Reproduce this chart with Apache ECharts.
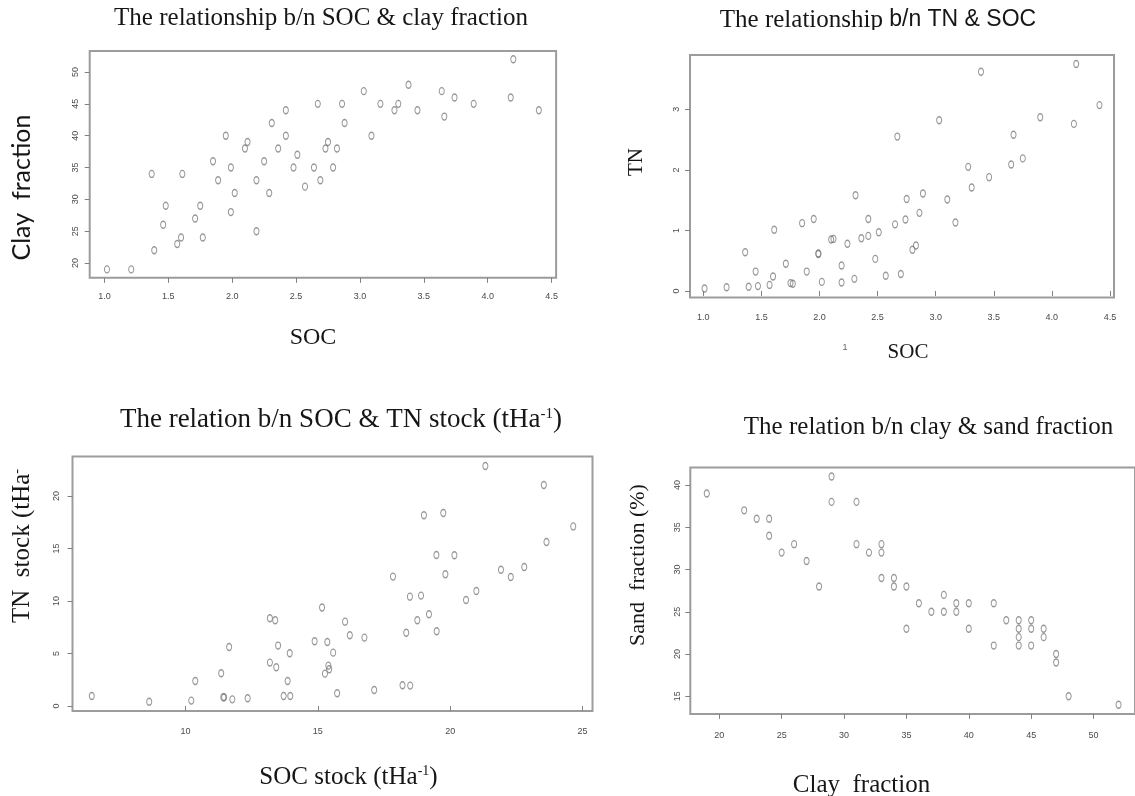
<!DOCTYPE html>
<html>
<head>
<meta charset="utf-8">
<title>SOC relationships</title>
<script src="https://cdn.jsdelivr.net/npm/echarts@6/dist/echarts.min.js"></script>
<style>
  html, body { margin: 0; padding: 0; background: #fff; }
  #chart { width: 1135px; height: 796px; }
</style>
</head>
<body>
<div id="chart"></div>
<script>
// panel 1: SOC vs clay fraction
const soc1 = [1.02, 1.21, 1.37, 1.39, 1.46, 1.48, 1.57, 1.60, 1.61, 1.71, 1.75, 1.77, 1.85, 1.89, 1.95, 1.99, 1.99, 2.02, 2.10, 2.12,
  2.19, 2.19, 2.25, 2.29, 2.31, 2.36, 2.42, 2.42, 2.48, 2.51, 2.57, 2.64, 2.67, 2.69, 2.73, 2.75, 2.79, 2.82, 2.86, 2.88,
  3.03, 3.09, 3.16, 3.27, 3.30, 3.38, 3.45, 3.64, 3.66, 3.74, 3.89, 4.18, 4.20, 4.40]
const clay1 = [19, 19, 34, 22, 26, 29, 23, 24, 34, 27, 29, 24, 36, 33, 40, 35, 28, 31, 38, 39,
  33, 25, 36, 31, 42, 38, 44, 40, 35, 37, 32, 35, 45, 33, 38, 39, 35, 38, 45, 42,
  47, 40, 45, 44, 45, 48, 44, 47, 43, 46, 45, 46, 52, 44]

// panel 2: SOC vs TN
const soc2 = [1.01, 1.20, 1.36, 1.39, 1.45, 1.47, 1.57, 1.60, 1.61, 1.71, 1.75, 1.77, 1.85, 1.89, 1.95, 1.99, 1.99, 2.02,
  2.10, 2.12, 2.19, 2.19, 2.24, 2.30, 2.31, 2.36, 2.42, 2.42, 2.48, 2.51, 2.57, 2.65, 2.67, 2.70, 2.74, 2.75, 2.80, 2.83,
  2.86, 2.89, 3.03, 3.10, 3.17, 3.28, 3.31, 3.39, 3.46, 3.65, 3.67, 3.75, 3.90, 4.19, 4.21, 4.41]
const tn2 = [0.04, 0.06, 0.64, 0.07, 0.32, 0.08, 0.10, 0.24, 1.01, 0.45, 0.13, 0.12, 1.12, 0.32, 1.19, 0.61, 0.62, 0.15,
  0.85, 0.86, 0.42, 0.14, 0.78, 0.20, 1.58, 0.87, 0.91, 1.19, 0.53, 0.97, 0.25, 1.10, 2.55, 0.28, 1.18, 1.52, 0.68, 0.75,
  1.29, 1.61, 2.82, 1.51, 1.13, 2.05, 1.71, 3.62, 1.88, 2.09, 2.58, 2.19, 2.87, 2.76, 3.75, 3.07]

// panel 3: SOC stock vs TN stock
const socStock = [6.46, 8.63, 10.22, 10.37, 11.35, 11.43, 11.46, 11.65, 11.77, 12.35, 13.19, 13.19, 13.39, 13.43, 13.50,
  13.71, 13.86, 13.94, 13.96, 14.88, 15.16, 15.27, 15.36, 15.40, 15.43, 15.58, 15.73, 16.03, 16.21, 16.76, 17.13, 17.84,
  18.20, 18.34, 18.48, 18.49, 18.76, 18.90, 19.01, 19.20, 19.48, 19.49, 19.74, 19.82, 20.16, 20.60, 20.99, 21.33, 21.92,
  22.29, 22.80, 23.54, 23.64, 24.65]
const tnStock = [0.95, 0.41, 0.51, 2.38, 3.11, 0.83, 0.83, 5.62, 0.63, 0.73, 8.35, 4.13, 8.16, 3.68, 5.75,
  0.95, 2.38, 5.02, 0.95, 6.16, 9.37, 3.08, 6.10, 3.84, 3.49, 5.08, 1.21, 8.03, 6.73, 6.51, 1.52, 12.32,
  1.97, 6.98, 10.41, 1.94, 8.16, 10.51, 18.16, 8.73, 14.38, 7.11, 18.38, 12.54, 14.35, 10.10, 10.95, 22.86, 12.98,
  12.29, 13.24, 21.05, 15.62, 17.10]

// panel 4: clay vs sand fraction
const clay4 = [19, 22, 23, 24, 24, 25, 26, 27, 28, 29, 29, 31, 31, 32, 33, 33, 33, 34, 34, 35,
  35, 36, 37, 38, 38, 39, 39, 40, 40, 42, 42, 43, 44, 44, 44, 44, 45, 45, 45, 46, 46, 47, 47, 48, 52]
const sand4 = [39, 37, 36, 36, 34, 32, 33, 31, 28, 41, 38, 38, 33, 32, 33, 32, 29, 29, 28, 28,
  23, 26, 25, 27, 25, 26, 25, 26, 23, 26, 21, 24, 24, 23, 22, 21, 24, 23, 21, 23, 22, 20, 19, 15, 14]

// tick labels
const socTicks = [1.0, 1.5, 2.0, 2.5, 3.0, 3.5, 4.0, 4.5]
const clayTicks = [20, 25, 30, 35, 40, 45, 50]
const tnTicks = [0, 1, 2, 3]
const socStockTicks = [10, 15, 20, 25]
const tnStockTicks = [0, 5, 10, 15, 20]
const clay4Ticks = [20, 25, 30, 35, 40, 45, 50]
const sandTicks = [15, 20, 25, 30, 35, 40]

const serif = '"Liberation Serif", "Times New Roman", serif'
const sans = '"Liberation Sans", Arial, sans-serif'
const ink = '#161616'

const chart = echarts.init(document.getElementById('chart'))

const pairs = (xs, ys) => xs.map((v, i) => [v, ys[i]])

const makeGrid = (left, top, width, height) => ({
  left, top, width, height,
  show: true,
  borderColor: '#9c9c9c',
  borderWidth: 2,
  backgroundColor: 'transparent',
})

const makeAxis = (gridIndex, min, max, ticks, margin, rotate, fmt) => ({
  type: 'value',
  gridIndex,
  min,
  max,
  splitLine: { show: false },
  axisLine: { show: false },
  axisTick: {
    show: true,
    length: 5,
    customValues: ticks,
    lineStyle: { color: '#808080', width: 1 },
  },
  axisLabel: {
    customValues: ticks,
    margin,
    rotate,
    fontSize: 9,
    fontFamily: sans,
    color: '#4a4a4a',
    formatter: fmt || ((v) => String(v)),
  },
})

const dot = (xi, data) => ({
  type: 'scatter',
  xAxisIndex: xi,
  yAxisIndex: xi,
  data,
  symbol: 'circle',
  symbolSize: [5, 7],
  itemStyle: {
    color: 'rgba(255,255,255,0)',
    borderColor: '#7d7d7d',
    borderWidth: 1.2,
  },
  silent: true,
})

const label = (x, y, text, size, opts = {}) => ({
  type: 'text',
  x,
  y,
  rotation: opts.rotate ? Math.PI / 2 : 0,
  z: 10,
  style: {
    text,
    fontSize: size,
    fontFamily: opts.font || serif,
    fill: opts.color || ink,
    align: 'center',
    verticalAlign: 'middle',
    rich: opts.rich,
  },
})

const supRich = (size, supSize) => ({
  a: { fontSize: size, fontFamily: serif, fill: ink },
  s: { fontSize: supSize, fontFamily: serif, fill: ink, verticalAlign: 'top' },
  b: { fontSize: size - 2, fontFamily: sans, fill: ink },
})

const option = {
  animation: false,
  backgroundColor: '#fff',
  grid: [
    makeGrid(89.7, 50.9, 466.4, 226.9),
    makeGrid(690, 55, 424, 242.5),
    makeGrid(72.5, 456.5, 520, 254.6),
    makeGrid(690.3, 467.4, 446.6, 246.5),
  ],
  xAxis: [
    makeAxis(0, 0.885, 4.535, socTicks, 14, 0, (v) => v.toFixed(1)),
    makeAxis(1, 0.885, 4.535, socTicks, 16, 0, (v) => v.toFixed(1)),
    makeAxis(2, 5.732, 25.378, socStockTicks, 16, 0),
    makeAxis(3, 17.68, 53.32, clay4Ticks, 17, 0),
  ],
  yAxis: [
    makeAxis(0, 17.68, 53.32, clayTicks, 10, 90),
    makeAxis(1, -0.108, 3.898, tnTicks, 9, 90),
    makeAxis(2, -0.488, 23.758, tnStockTicks, 11, 90),
    makeAxis(3, 12.92, 42.08, sandTicks, 8, 90),
  ],
  series: [
    dot(0, pairs(soc1, clay1)),
    dot(1, pairs(soc2, tn2)),
    dot(2, pairs(socStock, tnStock)),
    dot(3, pairs(clay4, sand4)),
  ],
  graphic: [
    // panel 1
    label(321, 18, 'The relationship b/n SOC & clay fraction', 25),
    label(21.5, 187.5, 'Clay  fraction', 25, { rotate: true, font: 'Lato, "Open Sans", sans-serif' }),
    label(313, 338, 'SOC', 24),
    // panel 2
    label(878, 20, '{a|The relationship }{b|b/n TN & SOC}', 25, { rich: supRich(25, 14) }),
    {
      type: 'rect',
      z: 11,
      shape: { x: 700, y: 30, width: 360, height: 6 },
      style: { fill: '#fff' },
    },
    label(636, 162, 'TN', 21, { rotate: true }),
    label(908, 352, 'SOC', 21),
    label(845, 348, '1', 9, { font: sans, color: '#666' }),
    // panel 3
    label(341, 420, '{a|The relation b/n SOC & TN stock (tHa}{s|-1}{a|)}', 27, { rich: supRich(27, 15) }),
    label(22.7, 546, '{a|TN  stock (tHa}{s|-}', 25, { rotate: true, rich: supRich(25, 14) }),
    label(348.5, 777, '{a|SOC stock (tHa}{s|-1}{a|)}', 25, { rich: supRich(25, 14) }),
    // panel 4
    label(928.5, 427, 'The relation b/n clay & sand fraction', 25),
    label(638.5, 565, 'Sand  fraction (%)', 22, { rotate: true }),
    label(861.5, 785, 'Clay  fraction', 25),
  ],
}

chart.setOption(option)

window.addEventListener('resize', () => chart.resize())
</script>
</body>
</html>
